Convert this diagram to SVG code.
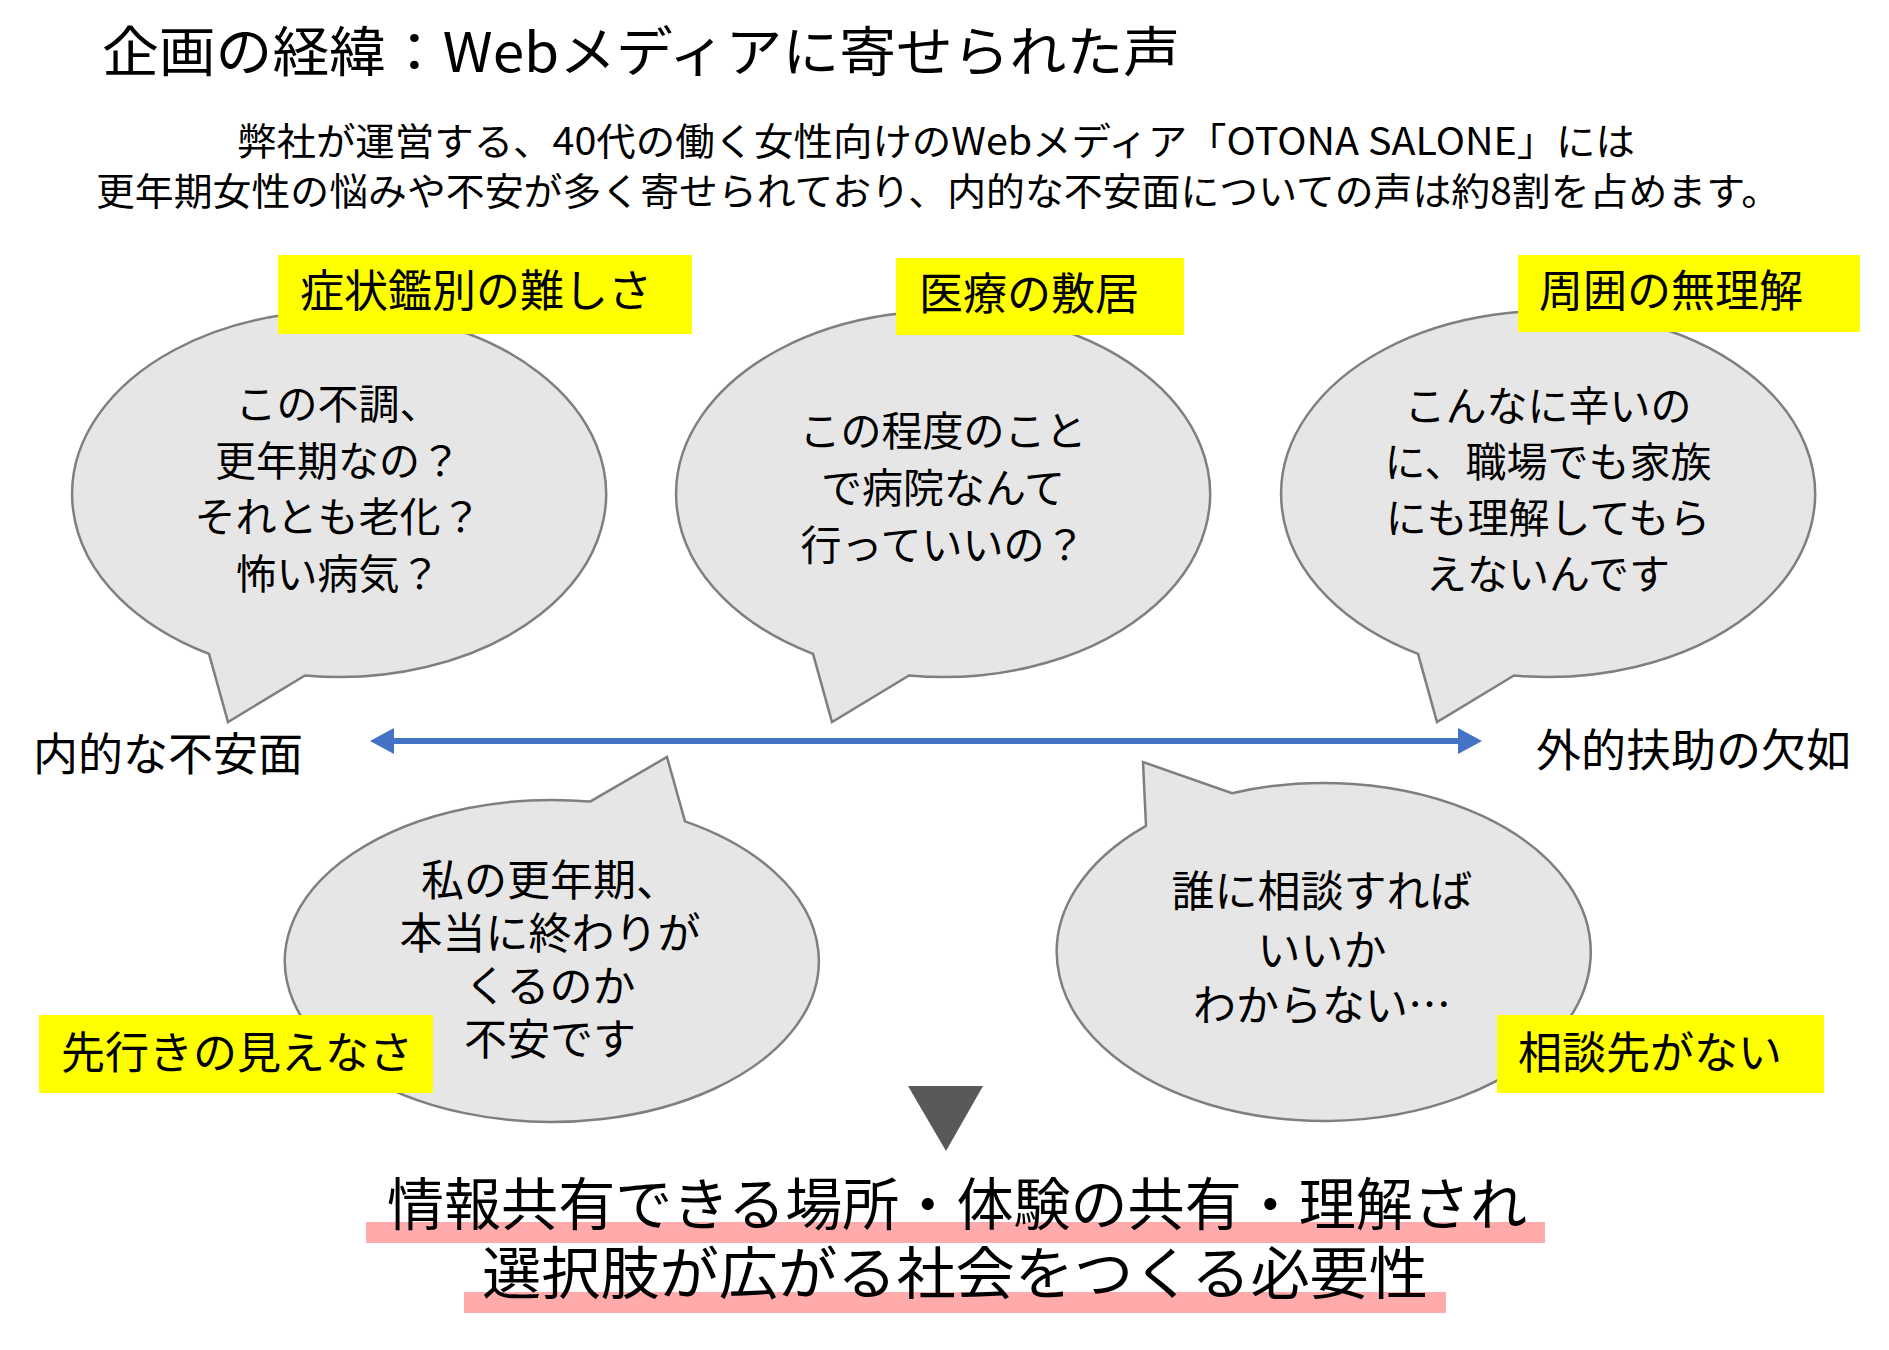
<svg xmlns="http://www.w3.org/2000/svg" width="1889" height="1350" viewBox="0 0 1889 1350">
  <style>
    text { font-family: "Noto Sans CJK JP", "Noto Sans", sans-serif; fill: #000; }
    .bubble { fill: #E7E6E6; stroke: #7F7F7F; stroke-width: 2.5; stroke-linejoin: miter; }
    .tag { fill: #FFFF00; }
    .tagtxt { font-size: 44px; dominant-baseline: central; }
    .btxt { font-size: 41px; text-anchor: middle; dominant-baseline: central; }
    .btxt2 { font-size: 43px; text-anchor: middle; dominant-baseline: central; }
    .axis { font-size: 45px; dominant-baseline: central; }
    .sub { font-size: 38px; text-anchor: middle; dominant-baseline: central; }
    .concl { font-size: 57px; text-anchor: middle; dominant-baseline: central; }
    .hl { fill: #FFABAB; }
  </style>
  <defs>
    <marker id="ah" viewBox="0 0 24 26" markerWidth="24" markerHeight="26" refX="14" refY="13" orient="auto-start-reverse" markerUnits="userSpaceOnUse">
      <path d="M0,0 L24,13 L0,26 Z" fill="#4472C4"/>
    </marker>
  </defs>
  <rect width="1889" height="1350" fill="#FFFFFF"/>

  <g id="title">
    <text x="102" y="48" font-size="54" dominant-baseline="central" textLength="1078" lengthAdjust="spacingAndGlyphs">企画の経緯：Webメディアに寄せられた声</text>
  </g>
  <g id="intro">
    <text class="sub"><tspan x="936" y="138" textLength="1398" lengthAdjust="spacingAndGlyphs">弊社が運営する、40代の働く女性向けのWebメディア「OTONA SALONE」には</tspan><tspan x="938" y="188" textLength="1684" lengthAdjust="spacingAndGlyphs">更年期女性の悩みや不安が多く寄せられており、内的な不安面についての声は約8割を占めます。</tspan></text>
  </g>

  <g id="connectors">
    <line x1="380" y1="741" x2="1472" y2="741" stroke="#4472C4" stroke-width="6" marker-start="url(#ah)" marker-end="url(#ah)"/>
  </g>

  <g id="bubble1">
    <path class="bubble" d="M305,675.5 A267 183 0 1 0 209,653.8 L228,722 Z"/>
    <rect class="tag" x="278" y="255" width="414" height="79"/>
    <text class="tagtxt" x="300" y="288">症状鑑別の難しさ</text>
    <text class="btxt"><tspan x="338" y="401">この不調、</tspan><tspan x="338" y="457.5">更年期なの？</tspan><tspan x="338" y="514">それとも老化？</tspan><tspan x="338" y="570.5">怖い病気？</tspan></text>
  </g>

  <g id="bubble2">
    <path class="bubble" d="M909,675.5 A267 183 0 1 0 813,653.8 L832,722 Z"/>
    <rect class="tag" x="896" y="258" width="288" height="77"/>
    <text class="tagtxt" x="919" y="291">医療の敷居</text>
    <text class="btxt"><tspan x="943" y="428">この程度のこと</tspan><tspan x="943" y="485">で病院なんて</tspan><tspan x="943" y="542">行っていいの？</tspan></text>
  </g>

  <g id="bubble3">
    <path class="bubble" d="M1514,675.5 A267 183 0 1 0 1418,653.8 L1437,722 Z"/>
    <rect class="tag" x="1518" y="255" width="342" height="77"/>
    <text class="tagtxt" x="1539" y="288">周囲の無理解</text>
    <text class="btxt"><tspan x="1548" y="403">こんなに辛いの</tspan><tspan x="1548" y="459">に、職場でも家族</tspan><tspan x="1548" y="515">にも理解してもら</tspan><tspan x="1548" y="571">えないんです</tspan></text>
  </g>

  <g id="axis-left">
    <text class="axis" x="33" y="751">内的な不安面</text>
  </g>
  <g id="axis-right">
    <text class="axis" x="1536" y="747">外的扶助の欠如</text>
  </g>

  <g id="bubble4">
    <path class="bubble" d="M685,821.4 A267 161 0 1 1 590,801.6 L667,757 Z"/>
    <rect class="tag" x="39" y="1015" width="394" height="78"/>
    <text class="tagtxt" x="61" y="1050">先行きの見えなさ</text>
    <text class="btxt2"><tspan x="550" y="877">私の更年期、</tspan><tspan x="550" y="930">本当に終わりが</tspan><tspan x="550" y="983">くるのか</tspan><tspan x="550" y="1036">不安です</tspan></text>
  </g>

  <g id="bubble5">
    <path class="bubble" d="M1232,793.2 A267 169 0 1 1 1146,825.8 L1143,762 Z"/>
    <rect class="tag" x="1497" y="1015" width="327" height="78"/>
    <text class="tagtxt" x="1518" y="1050">相談先がない</text>
    <text class="btxt2"><tspan x="1322" y="888">誰に相談すれば</tspan><tspan x="1322" y="947">いいか</tspan><tspan x="1322" y="1002">わからない…</tspan></text>
  </g>

  <g id="down-triangle">
    <polygon points="908,1086 983,1086 946,1151" fill="#595959"/>
  </g>

  <g id="conclusion">
    <rect class="hl" x="366" y="1222" width="1179" height="21"/>
    <rect class="hl" x="464" y="1292" width="982" height="21"/>
    <text class="concl"><tspan x="957" y="1200" textLength="1140" lengthAdjust="spacingAndGlyphs">情報共有できる場所・体験の共有・理解され</tspan><tspan x="955" y="1269" textLength="946" lengthAdjust="spacingAndGlyphs">選択肢が広がる社会をつくる必要性</tspan></text>
  </g>
</svg>
